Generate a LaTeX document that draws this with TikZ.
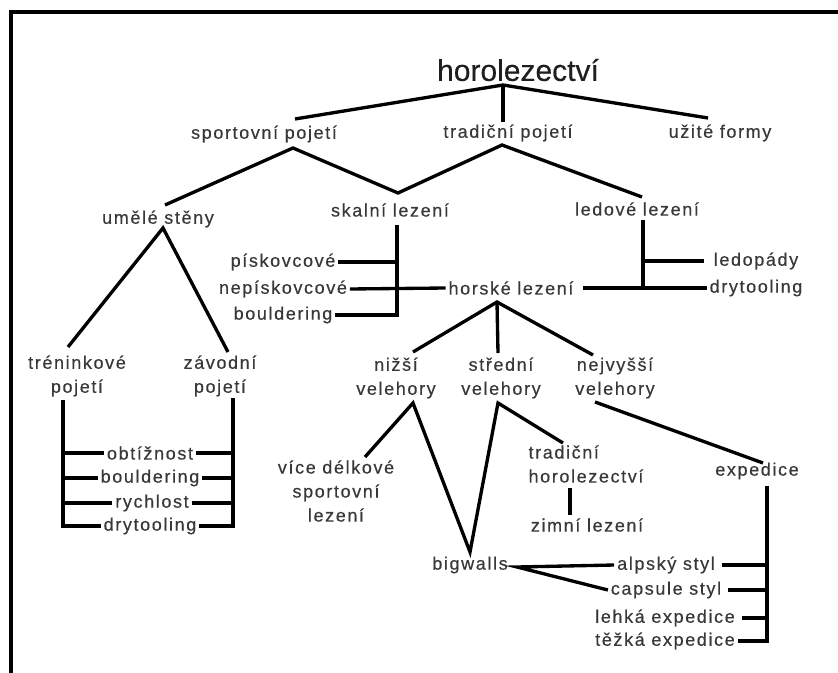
\documentclass[tikz,border=0pt]{standalone}
\usepackage{fontspec}
\setmainfont{Liberation Sans}
\newfontfamily\termfont[LetterSpace=9, FakeBold=0.4]{Liberation Sans}
\newfontfamily\titlefont[FakeBold=0.3]{Liberation Sans}

\begin{document}
\begin{tikzpicture}[%
    x=0.75pt, y=-0.75pt,
    line width=2.5pt,
    term/.style={
        inner sep=1pt,
        align=center,
        text=black!78,
        font=\termfont\fontsize{13.5}{18}\selectfont
    },
    titleterm/.style={
        inner sep=1pt,
        text=black!88,
        font=\titlefont\fontsize{22.5}{26}\selectfont
    },
    branch/.style={draw=black, line width=2.5pt},
    frame/.style={draw=black, line width=3pt}
]
    % Fixed size of the page.
    \useasboundingbox (0,0) rectangle (838,673);

    % Frame on the left and on top.
    \draw[frame] (11,680) -- (11,12) -- (845,12);

    % Labels of the first rows.
    \node[titleterm] (title)  at (518,70)  {horolezectví};
    \node[term]      (sport)  at (264,134) {sportovní pojetí};
    \node[term]      (trad)   at (508,133) {tradiční pojetí};
    \node[term]      (uzite)  at (720,133) {užité formy};
    \node[term]      (umele)  at (158,219) {umělé stěny};
    \node[term]      (skalni) at (390,210) {skalní lezení};
    \node[term]      (ledove) at (637,209) {ledové lezení};

    % Labels round the middle bar.
    \node[term] (pisk)     at (283,262) {pískovcové};
    \node[term] (nepisk)   at (283,289) {nepískovcové};
    \node[term] (bould)    at (283,315) {bouldering};
    \node[term] (horske)   at (511,288) {horské lezení};
    \node[term] (ledopady) at (756,261) {ledopády};
    \node[term] (drytool)  at (756,288) {drytooling};

    % Labels of the artificial walls.
    \node[term] (trenink)  at (77,376)  {tréninkové\\pojetí};
    \node[term] (zavod)    at (220,376) {závodní\\pojetí};
    \node[term] (obtiz)    at (150,453) {obtížnost};
    \node[term] (bouldB)   at (150,478) {bouldering};
    \node[term] (rychl)    at (152,503) {rychlost};
    \node[term] (drytoolB) at (150,526) {drytooling};

    % Labels of the mountains.
    \node[term] (nizsi)    at (396,378) {nižší\\velehory};
    \node[term] (stredni)  at (501,378) {střední\\velehory};
    \node[term] (nejvyssi) at (615,378) {nejvyšší\\velehory};
    \node[term] (vicedel)  at (336,491) {více délkové\\sportovní\\lezení};
    \node[term, align=left] (tradhor) at (586,464) {tradiční\\horolezectví};
    \node[term] (zimni)    at (587,525) {zimní lezení};
    \node[term] (exped)    at (757,471) {expedice};
    \node[term] (bigw)     at (470,565) {bigwalls};
    \node[term] (alpsky)   at (666,565) {alpský styl};
    \node[term] (capsule)  at (666,590) {capsule styl};
    \node[term] (lehka)    at (665,618) {lehká expedice};
    \node[term] (tezka)    at (665,641) {těžká expedice};

    % Points of the upper branches.
    \coordinate (title-j)    at (503,85);
    \coordinate (sport-end)  at (295,119);
    \coordinate (trad-top)   at (503,122);
    \coordinate (uzite-end)  at (708,118);
    \coordinate (sport-j)    at (293,148);
    \coordinate (trad-j)     at (502,145);
    \coordinate (umele-top)  at (165,205);
    \coordinate (skalni-top) at (398,193);
    \coordinate (ledove-top) at (642,197);
    \coordinate (umele-j)    at (163,228);
    \coordinate (trenink-top) at (68,347);
    \coordinate (zavod-top)  at (228,352);

    % Points of the bars.
    \coordinate (skalni-bar)  at (397,225);
    \coordinate (ledove-bar)  at (643,220);
    \coordinate (trenink-bar) at (63,400);
    \coordinate (zavod-bar)   at (233,398);
    \coordinate (tradhor-bar) at (570,488);
    \coordinate (zimni-top)   at (570,515);
    \coordinate (exped-bar)   at (767,486);

    % Points of the mountains.
    \coordinate (horske-j)     at (497,302);
    \coordinate (nizsi-top)    at (413,352);
    \coordinate (stredni-top)  at (498,353);
    \coordinate (nejvyssi-top) at (593,355);
    \coordinate (nizsi-j)      at (413,403);
    \coordinate (stredni-j)    at (498,403);
    \coordinate (nejvyssi-j)   at (595,402);
    \coordinate (vice-top)     at (365,457);
    \coordinate (bigw-top)     at (470,552);
    \coordinate (tradhor-top)  at (563,443);
    \coordinate (exped-top)    at (763,463);
    \coordinate (bigw-knot)    at (517,567);

    % Upper branches.
    \draw[branch] (sport-end) -- (title-j) -- (uzite-end);
    \draw[branch] (title-j) -- (trad-top);
    \draw[branch] (umele-top) -- (sport-j) -- (skalni-top)
                              -- (trad-j) -- (ledove-top);
    \draw[branch] (trenink-top) -- (umele-j) -- (zavod-top);

    % Bar of the rock climbing.
    \draw[branch] (skalni-bar) |- (bould.east);
    \draw[branch] (pisk.east) -- (pisk.east -| skalni-bar);
    \draw[branch] (nepisk.east) -- (horske.west);

    % Bar of the ice climbing.
    \draw[branch] (ledove-bar) -- (ledove-bar |- drytool.west);
    \draw[branch, shorten >=5pt] (ledove-bar |- ledopady.west) -- (ledopady.west);
    \draw[branch, shorten <=5pt] (horske.east) -- (drytool.west);

    % Bars of the artificial walls.
    \draw[branch] (trenink-bar) |- (drytoolB.west);
    \draw[branch] (zavod-bar) |- (drytoolB.east);
    \foreach \n in {obtiz, bouldB, rychl} {
        \draw[branch] (\n.west -| trenink-bar) -- (\n.west);
        \draw[branch] (\n.east) -- (\n.east -| zavod-bar);
    }

    % Mountains.
    \draw[branch] (nizsi-top) -- (horske-j) -- (nejvyssi-top);
    \draw[branch] (horske-j) -- (stredni-top);
    \draw[branch] (vice-top) -- (nizsi-j) -- (bigw-top)
                             -- (stredni-j) -- (tradhor-top);
    \draw[branch] (nejvyssi-j) -- (exped-top);
    \draw[branch] (tradhor-bar) -- (zimni-top);

    % Bar of the expeditions.
    \draw[branch] (exped-bar) |- (tezka.east);
    \foreach \n in {alpsky, capsule, lehka} {
        \draw[branch, shorten <=3pt] (\n.east) -- (\n.east -| exped-bar);
    }

    % Bigwalls.
    \draw[branch] (alpsky.west) -- (bigw-knot) -- (capsule.west);
\end{tikzpicture}
\end{document}
